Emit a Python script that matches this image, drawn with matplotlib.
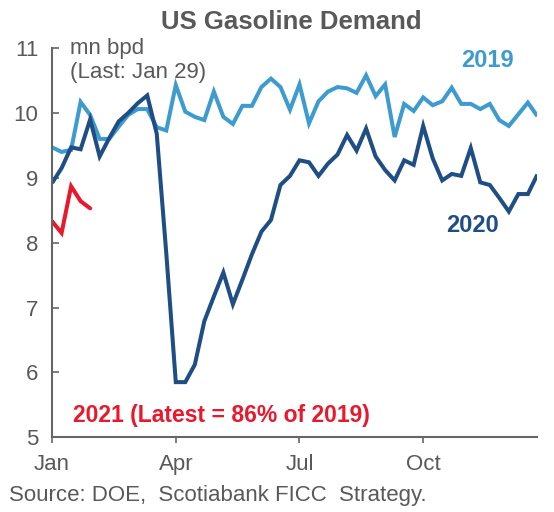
import matplotlib
matplotlib.use("Agg")
import matplotlib.pyplot as plt

plt.rcParams['font.family'] = ['Liberation Sans', 'DejaVu Sans']

# Weekly values (mn bpd), week index 0..51
demand_2019 = [9.47, 9.40, 9.43, 10.17, 9.97, 9.60, 9.60, 9.79, 9.97, 10.06,
               10.06, 9.78, 9.73, 10.43, 10.02, 9.94, 9.89, 10.33, 9.94, 9.83,
               10.11, 10.11, 10.40, 10.53, 10.40, 10.05, 10.44, 9.84, 10.18, 10.33,
               10.40, 10.38, 10.31, 10.58, 10.26, 10.44, 9.63, 10.14, 10.03, 10.24,
               10.12, 10.18, 10.39, 10.14, 10.14, 10.06, 10.14, 9.89, 9.80, 9.98,
               10.16, 9.95]
demand_2020 = [8.92, 9.15, 9.47, 9.44, 9.90, 9.33, 9.61, 9.87, 10.00, 10.15,
               10.27, 9.68, 7.84, 5.85, 5.85, 6.12, 6.79, 7.17, 7.54, 7.05,
               7.43, 7.82, 8.17, 8.35, 8.89, 9.03, 9.27, 9.24, 9.03, 9.22,
               9.36, 9.66, 9.42, 9.76, 9.33, 9.12, 8.96, 9.27, 9.20, 9.80,
               9.30, 8.96, 9.06, 9.03, 9.46, 8.93, 8.89, 8.69, 8.48, 8.75,
               8.75, 9.05]
demand_2021 = [8.33, 8.15, 8.87, 8.64, 8.53]

month_ticks = [0, 13, 26, 39]
month_labels = ['Jan', 'Apr', 'Jul', 'Oct']
y_ticks = [5, 6, 7, 8, 9, 10, 11]

c2019 = '#3E9BD0'
c2020 = '#1F4E85'
c2021 = '#E8192C'
gray = '#595959'

fig = plt.figure(figsize=(5.54, 5.12), dpi=100)
ax = fig.add_axes([0.094, 0.146, 0.876, 0.760])

lw = 2.9
ax.plot(range(len(demand_2019)), demand_2019, color=c2019, lw=lw, solid_joinstyle='miter', solid_capstyle='butt')
ax.plot(range(len(demand_2020)), demand_2020, color=c2020, lw=lw, solid_joinstyle='miter', solid_capstyle='butt')
ax.plot(range(len(demand_2021)), demand_2021, color=c2021, lw=lw, solid_joinstyle='miter', solid_capstyle='round')

ax.set_xlim(0, 51)
ax.set_ylim(5, 11)
ax.set_yticks(y_ticks)
ax.set_xticks(month_ticks)
ax.set_xticklabels(month_labels)

for s in ['top', 'right']:
    ax.spines[s].set_visible(False)
for s in ['left', 'bottom']:
    ax.spines[s].set_color('#666666')
    ax.spines[s].set_linewidth(1.5)

ax.tick_params(axis='y', direction='in', length=5, width=1.2, color='#666666',
               labelsize=16, labelcolor=gray, pad=10)
ax.tick_params(axis='x', direction='out', length=4, width=1.2, color='#666666',
               labelsize=16, labelcolor=gray, pad=8)

fig.text(0.525, 0.957, 'US Gasoline Demand', ha='center', va='center',
         fontsize=18.5, fontweight='bold', color=gray)

ax.text(0.037, 1.0, 'mn bpd', transform=ax.transAxes, ha='left', va='center',
        fontsize=16, color=gray)
ax.text(0.037, 0.938, '(Last: Jan 29)', transform=ax.transAxes, ha='left', va='center',
        fontsize=16, color=gray)

ax.text(45.8, 10.81, '2019', ha='center', va='center', fontsize=17,
        fontweight='bold', color=c2019)
ax.text(44.2, 8.26, '2020', ha='center', va='center', fontsize=17,
        fontweight='bold', color=c2020)
ax.text(2.2, 5.33, '2021 (Latest = 86% of 2019)', ha='left', va='center',
        fontsize=16.5, fontweight='bold', color=c2021)

fig.text(0.016, 0.033, 'Source: DOE,  Scotiabank FICC  Strategy.', ha='left', va='center',
         fontsize=16, color=gray)

fig.savefig('out.png', dpi=100)
